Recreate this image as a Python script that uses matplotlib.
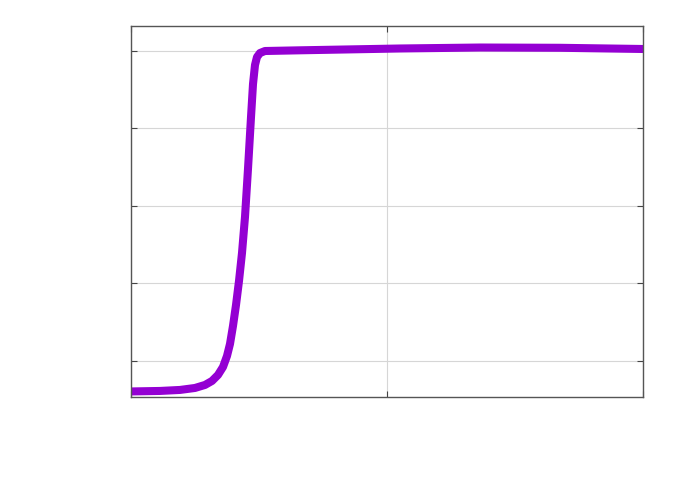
import numpy as np
import matplotlib
matplotlib.use("Agg")
import matplotlib.pyplot as plt

# curve
x_vals = [0.0, 0.1133, 0.1914, 0.2500, 0.2891, 0.3164, 0.3398, 0.3594, 0.3750,
          0.3867, 0.3984, 0.4102, 0.4219, 0.4336, 0.4453, 0.4570, 0.4688, 0.4766,
          0.4844, 0.4922, 0.5039, 0.5234, 0.6602, 1.0508, 1.3633, 1.6758, 2.0]
y_vals = [0.1213, 0.1226, 0.1252, 0.1303, 0.1381, 0.1484, 0.1639, 0.1845, 0.2129,
          0.2439, 0.2903, 0.3445, 0.4065, 0.4787, 0.5716, 0.6955, 0.8297, 0.9148,
          0.9639, 0.9845, 0.9948, 1.0000, 1.0018, 1.0065, 1.0090, 1.0083, 1.0052]
x_ticks = [0, 1, 2]
y_ticks = [0.2, 0.4, 0.6, 0.8, 1.0]

fig = plt.figure(figsize=(6.92, 4.85), dpi=100)
ax = fig.add_axes([0.1893, 0.1794, 0.7399, 0.7649])

ax.plot(x_vals, y_vals, color='#9400d3', lw=5.8, solid_capstyle='butt',
        solid_joinstyle='round')

ax.set_xlim(0, 2)
ax.set_ylim(0.107, 1.0645)
ax.set_xticks(x_ticks)
ax.set_yticks(y_ticks)
ax.grid(True, color='#d6d6d6', lw=0.8)
ax.set_axisbelow(True)
ax.tick_params(direction='in', length=4.5, width=0.8, color='#444444',
               top=True, right=True, labelleft=False, labelbottom=False)
for s in ax.spines.values():
    s.set_color('#555555')
    s.set_linewidth(1.0)

fig.savefig('out.png', dpi=100)
